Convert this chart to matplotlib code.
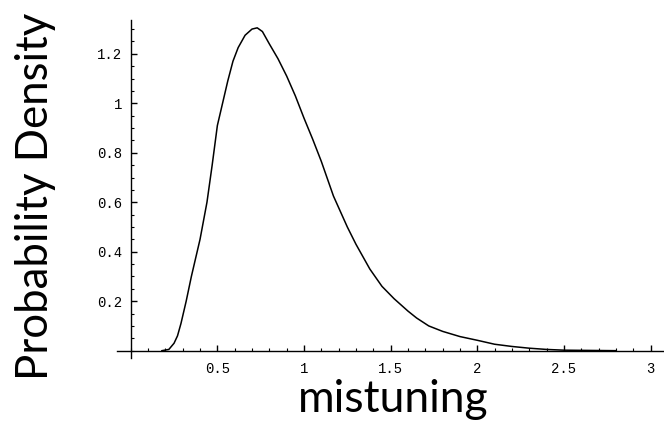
import numpy as np
import matplotlib
matplotlib.use("Agg")
import matplotlib.pyplot as plt
from matplotlib.ticker import MultipleLocator, FuncFormatter

# mistuning values and the density
mistuning = [0.18, 0.22, 0.25, 0.27, 0.29, 0.32, 0.35, 0.40, 0.44, 0.47,
             0.50, 0.53, 0.56, 0.59, 0.62, 0.66, 0.70, 0.73, 0.76, 0.80,
             0.85, 0.90, 0.95, 1.00, 1.05, 1.10, 1.17, 1.25, 1.30, 1.38,
             1.45, 1.52, 1.60, 1.65, 1.72, 1.80, 1.90, 2.00, 2.10, 2.20,
             2.30, 2.40, 2.50, 2.65, 2.80]
density = [0.0, 0.005, 0.03, 0.06, 0.11, 0.20, 0.30, 0.45, 0.60, 0.75,
           0.91, 1.00, 1.09, 1.17, 1.225, 1.275, 1.30, 1.305, 1.29, 1.24,
           1.18, 1.11, 1.03, 0.94, 0.855, 0.765, 0.625, 0.50, 0.43, 0.33,
           0.26, 0.21, 0.16, 0.132, 0.10, 0.078, 0.057, 0.042, 0.026, 0.017,
           0.010, 0.005, 0.002, 0.001, 0.0]

x_ticks = [0.5, 1, 1.5, 2, 2.5, 3]
y_ticks = [0.2, 0.4, 0.6, 0.8, 1, 1.2]

fig = plt.figure(figsize=(6.64, 4.33), dpi=100)
ax = fig.add_axes([0.176, 0.173, 0.822, 0.781])

ax.plot(mistuning, density, color="black", lw=1.1)

ax.set_xlim(-0.08, 3.07)
ax.set_ylim(-0.03, 1.337)

ax.spines["left"].set_position(("data", 0))
ax.spines["bottom"].set_position(("data", 0))
ax.spines["top"].set_visible(False)
ax.spines["right"].set_visible(False)
for s in ("left", "bottom"):
    ax.spines[s].set_linewidth(1.0)

ax.set_xticks(x_ticks)
ax.set_yticks(y_ticks)
ax.xaxis.set_minor_locator(MultipleLocator(0.1))
ax.yaxis.set_minor_locator(MultipleLocator(0.05))
fmt = FuncFormatter(lambda v, p: ("%g" % v))
ax.xaxis.set_major_formatter(fmt)
ax.yaxis.set_major_formatter(fmt)
ax.tick_params(which="major", direction="in", length=4, width=1,
               labelsize=10, pad=6)
ax.tick_params(axis="x", which="major", pad=8)
ax.tick_params(which="minor", direction="in", length=2.5, width=0.8)
for lab in ax.get_xticklabels() + ax.get_yticklabels():
    lab.set_family("Liberation Mono")

fig.text(0.054, 0.547, "Probability Density", rotation=90, ha="center",
         va="center", fontsize=31.5, family="Lato")
fig.text(0.592, 0.078, "mistuning", ha="center", va="center",
         fontsize=32, family="Lato")

fig.savefig("out.png", dpi=100)
